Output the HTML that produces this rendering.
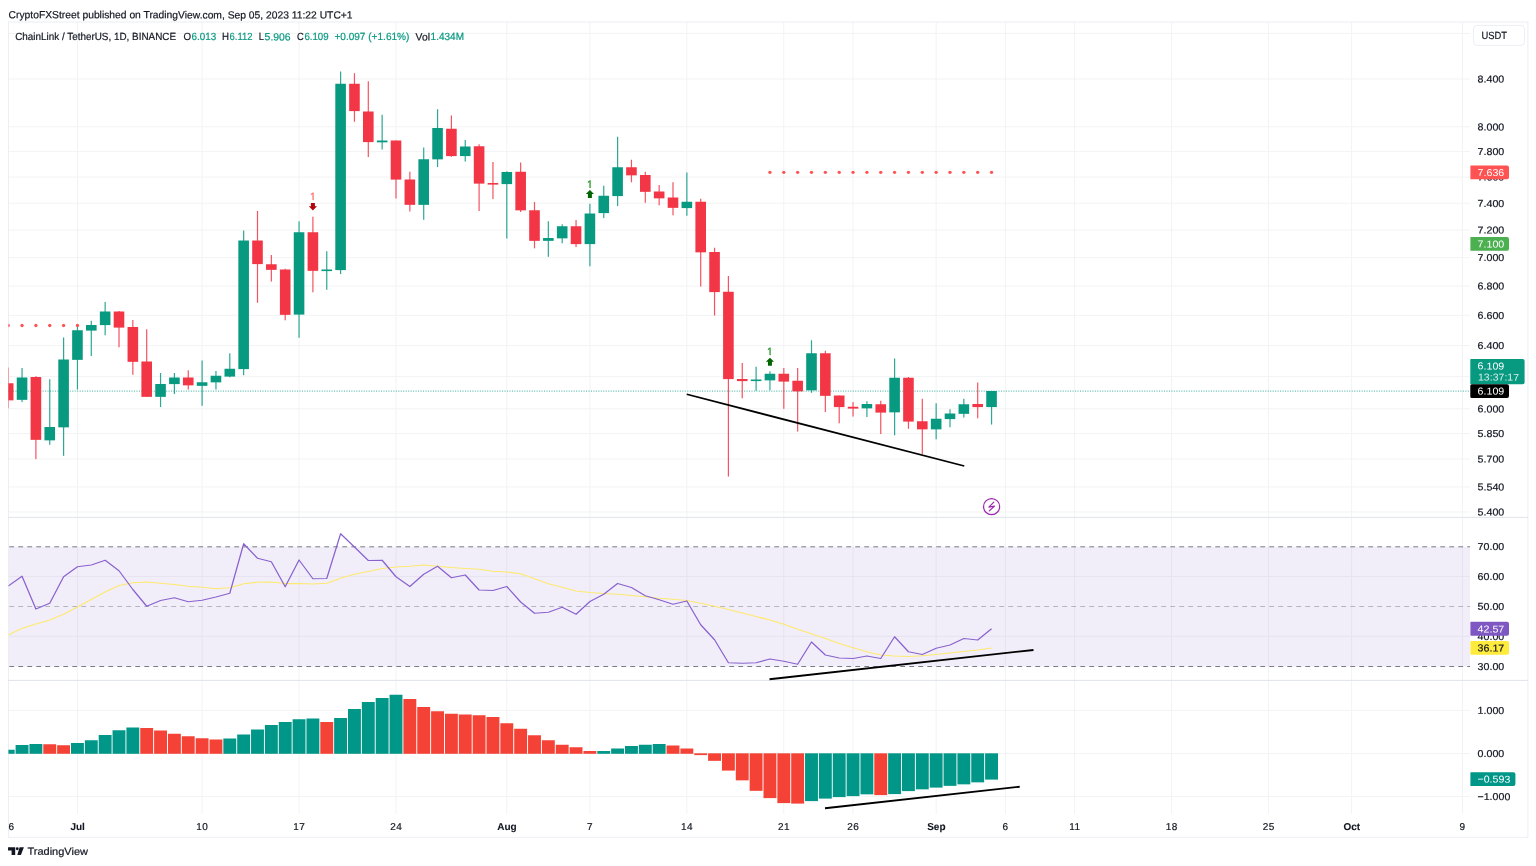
<!DOCTYPE html>
<html lang="en"><head><meta charset="utf-8"><title>ChainLink / TetherUS, 1D, BINANCE</title>
<style>html,body{margin:0;padding:0;background:#fff;}svg{display:block;}text{font-family:"Liberation Sans",sans-serif;font-size:10.4px;fill:#131722;text-rendering:geometricPrecision;}text{stroke:#131722;stroke-width:0.2px;}.b{font-weight:bold;stroke-width:0.1px;}.w{fill:#fff;stroke:none;}.ax{font-size:10px;}.t{fill:#089981;stroke:#089981;}</style></head><body>
<svg width="1536" height="866" viewBox="0 0 1536 866">
<rect width="1536" height="866" fill="#fff"/>
<g stroke="#F2F3F4" stroke-width="1">
<line x1="77.45" y1="22.0" x2="77.45" y2="814"/>
<line x1="202.10" y1="22.0" x2="202.10" y2="814"/>
<line x1="299.05" y1="22.0" x2="299.05" y2="814"/>
<line x1="396.00" y1="22.0" x2="396.00" y2="814"/>
<line x1="506.80" y1="22.0" x2="506.80" y2="814"/>
<line x1="589.90" y1="22.0" x2="589.90" y2="814"/>
<line x1="686.85" y1="22.0" x2="686.85" y2="814"/>
<line x1="783.80" y1="22.0" x2="783.80" y2="814"/>
<line x1="853.05" y1="22.0" x2="853.05" y2="814"/>
<line x1="936.15" y1="22.0" x2="936.15" y2="814"/>
<line x1="1005.40" y1="22.0" x2="1005.40" y2="814"/>
<line x1="1074.65" y1="22.0" x2="1074.65" y2="814"/>
<line x1="1171.60" y1="22.0" x2="1171.60" y2="814"/>
<line x1="1268.55" y1="22.0" x2="1268.55" y2="814"/>
<line x1="1351.65" y1="22.0" x2="1351.65" y2="814"/>
<line x1="1462.45" y1="22.0" x2="1462.45" y2="814"/>
<line x1="8" y1="33.41" x2="1470.0" y2="33.41"/>
<line x1="8" y1="79.00" x2="1470.0" y2="79.00"/>
<line x1="8" y1="126.81" x2="1470.0" y2="126.81"/>
<line x1="8" y1="151.63" x2="1470.0" y2="151.63"/>
<line x1="8" y1="177.08" x2="1470.0" y2="177.08"/>
<line x1="8" y1="203.22" x2="1470.0" y2="203.22"/>
<line x1="8" y1="230.07" x2="1470.0" y2="230.07"/>
<line x1="8" y1="257.68" x2="1470.0" y2="257.68"/>
<line x1="8" y1="286.08" x2="1470.0" y2="286.08"/>
<line x1="8" y1="315.34" x2="1470.0" y2="315.34"/>
<line x1="8" y1="345.50" x2="1470.0" y2="345.50"/>
<line x1="8" y1="376.61" x2="1470.0" y2="376.61"/>
<line x1="8" y1="408.74" x2="1470.0" y2="408.74"/>
<line x1="8" y1="433.55" x2="1470.0" y2="433.55"/>
<line x1="8" y1="459.01" x2="1470.0" y2="459.01"/>
<line x1="8" y1="486.91" x2="1470.0" y2="486.91"/>
<line x1="8" y1="512.00" x2="1470.0" y2="512.00"/>
<line x1="8" y1="576.40" x2="1470.0" y2="576.40"/>
<line x1="8" y1="636.30" x2="1470.0" y2="636.30"/>
<line x1="8" y1="710.30" x2="1470.0" y2="710.30"/>
<line x1="8" y1="753.50" x2="1470.0" y2="753.50"/>
<line x1="8" y1="796.60" x2="1470.0" y2="796.60"/>
</g>
<rect x="8" y="546.8" width="1462.0" height="119.7" fill="#7E57C2" fill-opacity="0.1"/>
<g fill="none" stroke-width="1">
<line x1="8" y1="546.8" x2="1470.0" y2="546.8" stroke="#787B86" stroke-dasharray="4.8 4.2" stroke-dashoffset="-1.3"/>
<line x1="8" y1="666.5" x2="1470.0" y2="666.5" stroke="#787B86" stroke-dasharray="4.8 4.2" stroke-dashoffset="-1.3"/>
<line x1="8" y1="606.5" x2="1470.0" y2="606.5" stroke="#787B86" stroke-opacity="0.5" stroke-dasharray="4.8 4.2" stroke-dashoffset="-1.3"/>
</g>
<rect x="8.5" y="22.0" width="1519.4" height="815.3" fill="none" stroke="#ECEEF4" stroke-width="1"/>
<g fill="none" stroke="#E0E3EB" stroke-width="1">
<line x1="8" y1="517.4" x2="1527.9" y2="517.4"/>
<line x1="8" y1="680.4" x2="1527.9" y2="680.4"/>
</g>
<clipPath id="cp"><rect x="8.4" y="22" width="1461.6" height="815"/></clipPath>
<g clip-path="url(#cp)">
<line x1="8" y1="391.1" x2="1469" y2="391.1" stroke="#089981" stroke-width="1" stroke-dasharray="1.1 1.37" stroke-opacity="0.75"/>
<rect x="7.60" y="367.50" width="1.2" height="40.80" fill="#F23645" fill-opacity="0.85"/>
<rect x="2.90" y="383.25" width="10.60" height="17.10" fill="#F23645"/>
<rect x="21.45" y="368.00" width="1.2" height="34.05" fill="#089981" fill-opacity="0.85"/>
<rect x="16.75" y="377.50" width="10.60" height="22.35" fill="#089981"/>
<rect x="35.30" y="376.25" width="1.2" height="82.80" fill="#F23645" fill-opacity="0.85"/>
<rect x="30.60" y="377.00" width="10.60" height="62.85" fill="#F23645"/>
<rect x="49.15" y="379.25" width="1.2" height="65.55" fill="#089981" fill-opacity="0.85"/>
<rect x="44.45" y="427.00" width="10.60" height="13.35" fill="#089981"/>
<rect x="63.00" y="337.50" width="1.2" height="118.30" fill="#089981" fill-opacity="0.85"/>
<rect x="58.30" y="359.50" width="10.60" height="67.85" fill="#089981"/>
<rect x="76.85" y="325.00" width="1.2" height="64.55" fill="#089981" fill-opacity="0.85"/>
<rect x="72.15" y="330.25" width="10.60" height="29.60" fill="#089981"/>
<rect x="90.70" y="320.75" width="1.2" height="35.30" fill="#089981" fill-opacity="0.85"/>
<rect x="86.00" y="325.00" width="10.60" height="5.60" fill="#089981"/>
<rect x="104.55" y="302.00" width="1.2" height="33.30" fill="#089981" fill-opacity="0.85"/>
<rect x="99.85" y="311.50" width="10.60" height="13.60" fill="#089981"/>
<rect x="118.40" y="311.00" width="1.2" height="36.30" fill="#F23645" fill-opacity="0.85"/>
<rect x="113.70" y="311.50" width="10.60" height="16.10" fill="#F23645"/>
<rect x="132.25" y="320.00" width="1.2" height="54.80" fill="#F23645" fill-opacity="0.85"/>
<rect x="127.55" y="327.00" width="10.60" height="34.85" fill="#F23645"/>
<rect x="146.10" y="329.25" width="1.2" height="67.55" fill="#F23645" fill-opacity="0.85"/>
<rect x="141.40" y="361.50" width="10.60" height="35.35" fill="#F23645"/>
<rect x="159.95" y="373.00" width="1.2" height="34.05" fill="#089981" fill-opacity="0.85"/>
<rect x="155.25" y="384.00" width="10.60" height="12.85" fill="#089981"/>
<rect x="173.80" y="373.00" width="1.2" height="21.05" fill="#089981" fill-opacity="0.85"/>
<rect x="169.10" y="377.50" width="10.60" height="6.60" fill="#089981"/>
<rect x="187.65" y="370.25" width="1.2" height="19.30" fill="#F23645" fill-opacity="0.85"/>
<rect x="182.95" y="377.50" width="10.60" height="7.85" fill="#F23645"/>
<rect x="201.50" y="360.50" width="1.2" height="45.30" fill="#089981" fill-opacity="0.85"/>
<rect x="196.80" y="382.25" width="10.60" height="3.60" fill="#089981"/>
<rect x="215.35" y="371.00" width="1.2" height="18.55" fill="#089981" fill-opacity="0.85"/>
<rect x="210.65" y="375.75" width="10.60" height="6.60" fill="#089981"/>
<rect x="229.20" y="353.25" width="1.2" height="24.05" fill="#089981" fill-opacity="0.85"/>
<rect x="224.50" y="368.75" width="10.60" height="7.85" fill="#089981"/>
<rect x="243.05" y="230.50" width="1.2" height="144.80" fill="#089981" fill-opacity="0.85"/>
<rect x="238.35" y="240.50" width="10.60" height="128.60" fill="#089981"/>
<rect x="256.90" y="211.00" width="1.2" height="91.80" fill="#F23645" fill-opacity="0.85"/>
<rect x="252.20" y="240.50" width="10.60" height="23.60" fill="#F23645"/>
<rect x="270.75" y="255.00" width="1.2" height="26.55" fill="#F23645" fill-opacity="0.85"/>
<rect x="266.05" y="264.25" width="10.60" height="5.60" fill="#F23645"/>
<rect x="284.60" y="268.75" width="1.2" height="51.55" fill="#F23645" fill-opacity="0.85"/>
<rect x="279.90" y="269.50" width="10.60" height="45.35" fill="#F23645"/>
<rect x="298.45" y="221.25" width="1.2" height="116.55" fill="#089981" fill-opacity="0.85"/>
<rect x="293.75" y="232.25" width="10.60" height="82.35" fill="#089981"/>
<rect x="312.30" y="216.75" width="1.2" height="75.55" fill="#F23645" fill-opacity="0.85"/>
<rect x="307.60" y="232.25" width="10.60" height="38.60" fill="#F23645"/>
<rect x="326.15" y="251.25" width="1.2" height="38.55" fill="#089981" fill-opacity="0.85"/>
<rect x="321.45" y="269.50" width="10.60" height="1.60" fill="#089981"/>
<rect x="340.00" y="71.50" width="1.2" height="202.55" fill="#089981" fill-opacity="0.85"/>
<rect x="335.30" y="83.75" width="10.60" height="186.35" fill="#089981"/>
<rect x="353.85" y="73.25" width="1.2" height="48.55" fill="#F23645" fill-opacity="0.85"/>
<rect x="349.15" y="83.75" width="10.60" height="27.35" fill="#F23645"/>
<rect x="367.70" y="81.25" width="1.2" height="75.80" fill="#F23645" fill-opacity="0.85"/>
<rect x="363.00" y="111.50" width="10.60" height="30.60" fill="#F23645"/>
<rect x="381.55" y="114.75" width="1.2" height="34.80" fill="#089981" fill-opacity="0.85"/>
<rect x="376.85" y="140.50" width="10.60" height="1.85" fill="#089981"/>
<rect x="395.40" y="140.50" width="1.2" height="58.05" fill="#F23645" fill-opacity="0.85"/>
<rect x="390.70" y="140.50" width="10.60" height="39.10" fill="#F23645"/>
<rect x="409.25" y="171.75" width="1.2" height="39.80" fill="#F23645" fill-opacity="0.85"/>
<rect x="404.55" y="179.50" width="10.60" height="25.35" fill="#F23645"/>
<rect x="423.10" y="147.50" width="1.2" height="72.30" fill="#089981" fill-opacity="0.85"/>
<rect x="418.40" y="159.25" width="10.60" height="45.60" fill="#089981"/>
<rect x="436.95" y="109.25" width="1.2" height="57.80" fill="#089981" fill-opacity="0.85"/>
<rect x="432.25" y="128.00" width="10.60" height="31.35" fill="#089981"/>
<rect x="450.80" y="115.50" width="1.2" height="41.30" fill="#F23645" fill-opacity="0.85"/>
<rect x="446.10" y="128.75" width="10.60" height="27.35" fill="#F23645"/>
<rect x="464.65" y="140.00" width="1.2" height="21.55" fill="#089981" fill-opacity="0.85"/>
<rect x="459.95" y="146.50" width="10.60" height="9.60" fill="#089981"/>
<rect x="478.50" y="144.25" width="1.2" height="66.80" fill="#F23645" fill-opacity="0.85"/>
<rect x="473.80" y="146.25" width="10.60" height="37.35" fill="#F23645"/>
<rect x="492.35" y="162.00" width="1.2" height="37.05" fill="#F23645" fill-opacity="0.85"/>
<rect x="487.65" y="183.00" width="10.60" height="1.60" fill="#F23645"/>
<rect x="506.20" y="171.25" width="1.2" height="67.30" fill="#089981" fill-opacity="0.85"/>
<rect x="501.50" y="172.00" width="10.60" height="12.10" fill="#089981"/>
<rect x="520.05" y="162.50" width="1.2" height="49.55" fill="#F23645" fill-opacity="0.85"/>
<rect x="515.35" y="171.75" width="10.60" height="38.60" fill="#F23645"/>
<rect x="533.90" y="202.00" width="1.2" height="46.30" fill="#F23645" fill-opacity="0.85"/>
<rect x="529.20" y="210.25" width="10.60" height="30.60" fill="#F23645"/>
<rect x="547.75" y="221.25" width="1.2" height="35.55" fill="#089981" fill-opacity="0.85"/>
<rect x="543.05" y="238.00" width="10.60" height="2.85" fill="#089981"/>
<rect x="561.60" y="224.25" width="1.2" height="19.05" fill="#089981" fill-opacity="0.85"/>
<rect x="556.90" y="226.25" width="10.60" height="12.10" fill="#089981"/>
<rect x="575.45" y="220.00" width="1.2" height="27.05" fill="#F23645" fill-opacity="0.85"/>
<rect x="570.75" y="226.25" width="10.60" height="17.85" fill="#F23645"/>
<rect x="589.30" y="203.75" width="1.2" height="62.55" fill="#089981" fill-opacity="0.85"/>
<rect x="584.60" y="213.50" width="10.60" height="30.60" fill="#089981"/>
<rect x="603.15" y="185.75" width="1.2" height="32.30" fill="#089981" fill-opacity="0.85"/>
<rect x="598.45" y="195.75" width="10.60" height="17.35" fill="#089981"/>
<rect x="617.00" y="136.75" width="1.2" height="69.30" fill="#089981" fill-opacity="0.85"/>
<rect x="612.30" y="167.25" width="10.60" height="28.85" fill="#089981"/>
<rect x="630.85" y="159.75" width="1.2" height="22.55" fill="#F23645" fill-opacity="0.85"/>
<rect x="626.15" y="167.25" width="10.60" height="8.10" fill="#F23645"/>
<rect x="644.70" y="171.75" width="1.2" height="31.05" fill="#F23645" fill-opacity="0.85"/>
<rect x="640.00" y="175.00" width="10.60" height="16.85" fill="#F23645"/>
<rect x="658.55" y="185.00" width="1.2" height="20.30" fill="#F23645" fill-opacity="0.85"/>
<rect x="653.85" y="191.50" width="10.60" height="6.85" fill="#F23645"/>
<rect x="672.40" y="182.25" width="1.2" height="33.05" fill="#F23645" fill-opacity="0.85"/>
<rect x="667.70" y="197.50" width="10.60" height="10.35" fill="#F23645"/>
<rect x="686.25" y="172.50" width="1.2" height="43.30" fill="#089981" fill-opacity="0.85"/>
<rect x="681.55" y="201.75" width="10.60" height="6.35" fill="#089981"/>
<rect x="700.10" y="198.75" width="1.2" height="87.80" fill="#F23645" fill-opacity="0.85"/>
<rect x="695.40" y="201.75" width="10.60" height="50.60" fill="#F23645"/>
<rect x="713.95" y="247.75" width="1.2" height="67.80" fill="#F23645" fill-opacity="0.85"/>
<rect x="709.25" y="252.00" width="10.60" height="40.10" fill="#F23645"/>
<rect x="727.80" y="276.00" width="1.2" height="200.55" fill="#F23645" fill-opacity="0.85"/>
<rect x="723.10" y="291.75" width="10.60" height="87.35" fill="#F23645"/>
<rect x="741.65" y="363.00" width="1.2" height="35.30" fill="#F23645" fill-opacity="0.85"/>
<rect x="736.95" y="379.00" width="10.60" height="2.10" fill="#F23645"/>
<rect x="755.50" y="366.75" width="1.2" height="24.05" fill="#089981" fill-opacity="0.85"/>
<rect x="750.80" y="379.50" width="10.60" height="1.60" fill="#089981"/>
<rect x="769.35" y="371.25" width="1.2" height="19.05" fill="#089981" fill-opacity="0.85"/>
<rect x="764.65" y="373.75" width="10.60" height="6.60" fill="#089981"/>
<rect x="783.20" y="368.00" width="1.2" height="40.80" fill="#F23645" fill-opacity="0.85"/>
<rect x="778.50" y="373.75" width="10.60" height="7.85" fill="#F23645"/>
<rect x="797.05" y="368.00" width="1.2" height="63.55" fill="#F23645" fill-opacity="0.85"/>
<rect x="792.35" y="380.75" width="10.60" height="10.60" fill="#F23645"/>
<rect x="810.90" y="340.25" width="1.2" height="52.55" fill="#089981" fill-opacity="0.85"/>
<rect x="806.20" y="353.25" width="10.60" height="37.10" fill="#089981"/>
<rect x="824.75" y="350.75" width="1.2" height="61.30" fill="#F23645" fill-opacity="0.85"/>
<rect x="820.05" y="353.25" width="10.60" height="42.60" fill="#F23645"/>
<rect x="838.60" y="395.50" width="1.2" height="27.80" fill="#F23645" fill-opacity="0.85"/>
<rect x="833.90" y="395.50" width="10.60" height="11.60" fill="#F23645"/>
<rect x="852.45" y="402.00" width="1.2" height="14.55" fill="#F23645" fill-opacity="0.85"/>
<rect x="847.75" y="406.75" width="10.60" height="1.85" fill="#F23645"/>
<rect x="866.30" y="401.25" width="1.2" height="15.80" fill="#089981" fill-opacity="0.85"/>
<rect x="861.60" y="404.00" width="10.60" height="4.35" fill="#089981"/>
<rect x="880.15" y="400.75" width="1.2" height="33.30" fill="#F23645" fill-opacity="0.85"/>
<rect x="875.45" y="404.25" width="10.60" height="8.35" fill="#F23645"/>
<rect x="894.00" y="358.50" width="1.2" height="76.80" fill="#089981" fill-opacity="0.85"/>
<rect x="889.30" y="377.75" width="10.60" height="34.60" fill="#089981"/>
<rect x="907.85" y="377.00" width="1.2" height="51.80" fill="#F23645" fill-opacity="0.85"/>
<rect x="903.15" y="377.75" width="10.60" height="43.85" fill="#F23645"/>
<rect x="921.70" y="398.75" width="1.2" height="55.30" fill="#F23645" fill-opacity="0.85"/>
<rect x="917.00" y="421.25" width="10.60" height="8.10" fill="#F23645"/>
<rect x="935.55" y="403.25" width="1.2" height="36.05" fill="#089981" fill-opacity="0.85"/>
<rect x="930.85" y="418.75" width="10.60" height="10.60" fill="#089981"/>
<rect x="949.40" y="409.25" width="1.2" height="18.05" fill="#089981" fill-opacity="0.85"/>
<rect x="944.70" y="413.50" width="10.60" height="5.60" fill="#089981"/>
<rect x="963.25" y="398.75" width="1.2" height="18.80" fill="#089981" fill-opacity="0.85"/>
<rect x="958.55" y="404.25" width="10.60" height="9.60" fill="#089981"/>
<rect x="977.10" y="382.50" width="1.2" height="35.80" fill="#F23645" fill-opacity="0.85"/>
<rect x="972.40" y="404.00" width="10.60" height="3.10" fill="#F23645"/>
<rect x="990.95" y="391.00" width="1.2" height="33.55" fill="#089981" fill-opacity="0.85"/>
<rect x="986.25" y="391.00" width="10.60" height="16.10" fill="#089981"/>
<g fill="#FF5252">
<circle cx="8.20" cy="325.5" r="1.65"/>
<circle cx="22.05" cy="325.5" r="1.65"/>
<circle cx="35.90" cy="325.5" r="1.65"/>
<circle cx="49.75" cy="325.5" r="1.65"/>
<circle cx="63.60" cy="325.5" r="1.65"/>
<circle cx="77.45" cy="325.5" r="1.65"/>
<circle cx="769.95" cy="172.3" r="1.65"/>
<circle cx="783.80" cy="172.3" r="1.65"/>
<circle cx="797.65" cy="172.3" r="1.65"/>
<circle cx="811.50" cy="172.3" r="1.65"/>
<circle cx="825.35" cy="172.3" r="1.65"/>
<circle cx="839.20" cy="172.3" r="1.65"/>
<circle cx="853.05" cy="172.3" r="1.65"/>
<circle cx="866.90" cy="172.3" r="1.65"/>
<circle cx="880.75" cy="172.3" r="1.65"/>
<circle cx="894.60" cy="172.3" r="1.65"/>
<circle cx="908.45" cy="172.3" r="1.65"/>
<circle cx="922.30" cy="172.3" r="1.65"/>
<circle cx="936.15" cy="172.3" r="1.65"/>
<circle cx="950.00" cy="172.3" r="1.65"/>
<circle cx="963.85" cy="172.3" r="1.65"/>
<circle cx="977.70" cy="172.3" r="1.65"/>
<circle cx="991.55" cy="172.3" r="1.65"/>
</g>
</g>
<g clip-path="url(#cp)">
<clipPath id="c1"><rect x="-4" y="-9.5" width="8" height="8.2"/><rect x="-0.45" y="-1.4" width="1.3" height="1.8"/></clipPath>
<path d="M310.90 203.00 h4 v3.3 h2.1 l-4.1 4.1 l-4.1 -4.1 h2.1 z" fill="#B2060C"/>
<g transform="translate(312.90 200.00)" clip-path="url(#c1)"><text transform="matrix(1 0.0005 0 1 0 0)" text-anchor="middle" style="font-size:10.4px;stroke:#FF6B6B;stroke-width:0.25px;fill:#FF6B6B">1</text></g>
<path d="M589.90 190.00 l4.1 4 h-2.1 v4 h-4 v-4 h-2.1 z" fill="#006400"/>
<g transform="translate(589.90 187.70)" clip-path="url(#c1)"><text transform="matrix(1 0.0005 0 1 0 0)" text-anchor="middle" style="font-size:10.4px;stroke:#2A962F;stroke-width:0.3px;fill:#2A962F">1</text></g>
<path d="M769.95 357.80 l4.1 4 h-2.1 v4 h-4 v-4 h-2.1 z" fill="#006400"/>
<g transform="translate(769.95 355.00)" clip-path="url(#c1)"><text transform="matrix(1 0.0005 0 1 0 0)" text-anchor="middle" style="font-size:10.4px;stroke:#2A962F;stroke-width:0.3px;fill:#2A962F">1</text></g>
<g stroke="#000" stroke-width="1.8" stroke-linecap="butt">
<line x1="686.75" y1="394.25" x2="964.25" y2="466"/>
<line x1="769.5" y1="679.25" x2="1033.5" y2="650"/>
<line x1="825" y1="808.25" x2="1019.75" y2="786.75"/>
</g>
<g fill="none" stroke="#9C27B0" stroke-width="1.2" stroke-linejoin="round" stroke-linecap="round">
<circle cx="991.6" cy="506.6" r="8.05"/>
<path d="M993.8 502.2 L988.9 507.1 L994.5 506.1 L989.3 510.9"/>
</g>
<polyline points="8.20,635.00 22.05,628.25 35.90,624.00 49.75,620.00 63.60,614.25 77.45,607.00 91.30,599.50 105.15,592.00 119.00,585.50 132.85,582.75 146.70,582.00 160.55,583.25 174.40,584.50 188.25,586.25 202.10,587.25 215.95,588.75 229.80,587.75 243.65,583.75 257.50,582.25 271.35,582.00 285.20,583.50 299.05,583.50 312.90,584.00 326.75,583.25 340.60,578.25 354.45,574.25 368.30,571.50 382.15,568.50 396.00,567.00 409.85,566.25 423.70,565.00 437.55,566.25 451.40,567.50 465.25,568.50 479.10,569.25 492.95,571.25 506.80,572.00 520.65,573.75 534.50,578.75 548.35,583.75 562.20,587.25 576.05,591.00 589.90,592.50 603.75,593.50 617.60,594.25 631.45,595.50 645.30,596.75 659.15,598.25 673.00,599.25 686.85,600.50 700.70,603.25 714.55,606.25 728.40,609.50 742.25,613.00 756.10,616.50 769.95,620.00 783.80,624.25 797.65,629.25 811.50,633.75 825.35,638.50 839.20,643.50 853.05,647.75 866.90,651.75 880.75,655.00 894.60,656.00 908.45,656.50 922.30,655.75 936.15,654.50 950.00,653.00 963.85,651.50 977.70,650.00 991.55,648.00" fill="none" stroke="#FDE96E" stroke-width="1.25" stroke-linejoin="round"/>
<polyline points="8.20,586.00 22.05,576.25 35.90,609.00 49.75,603.25 63.60,576.75 77.45,566.75 91.30,565.00 105.15,560.25 119.00,570.75 132.85,589.50 146.70,606.25 160.55,600.50 174.40,597.75 188.25,601.75 202.10,600.25 215.95,597.00 229.80,593.25 243.65,543.75 257.50,558.25 271.35,561.75 285.20,586.75 299.05,560.00 312.90,578.75 326.75,578.50 340.60,533.75 354.45,547.00 368.30,560.50 382.15,560.25 396.00,576.75 409.85,586.50 423.70,574.25 437.55,566.25 451.40,577.75 465.25,575.00 479.10,590.00 492.95,590.50 506.80,586.50 520.65,602.00 534.50,613.25 548.35,612.25 562.20,607.25 576.05,614.25 589.90,601.50 603.75,594.25 617.60,583.50 631.45,587.50 645.30,595.75 659.15,599.75 673.00,604.25 686.85,601.00 700.70,624.75 714.55,639.75 728.40,662.75 742.25,663.25 756.10,662.75 769.95,659.00 783.80,661.25 797.65,664.25 811.50,642.00 825.35,655.00 839.20,658.00 853.05,658.50 866.90,656.00 880.75,658.50 894.60,636.75 908.45,651.75 922.30,654.50 936.15,648.25 950.00,645.00 963.85,638.50 977.70,640.00 991.55,628.75" fill="none" stroke="#8862CE" stroke-width="1.25" stroke-linejoin="round"/>
<rect x="1.75" y="749.75" width="12.9" height="4.05" fill="#009688"/>
<rect x="15.60" y="745.00" width="12.9" height="8.80" fill="#009688"/>
<rect x="29.45" y="744.00" width="12.9" height="9.80" fill="#009688"/>
<rect x="43.30" y="744.25" width="12.9" height="9.55" fill="#F44336"/>
<rect x="57.15" y="745.25" width="12.9" height="8.55" fill="#F44336"/>
<rect x="71.00" y="743.00" width="12.9" height="10.80" fill="#009688"/>
<rect x="84.85" y="740.25" width="12.9" height="13.55" fill="#009688"/>
<rect x="98.70" y="735.00" width="12.9" height="18.80" fill="#009688"/>
<rect x="112.55" y="730.25" width="12.9" height="23.55" fill="#009688"/>
<rect x="126.40" y="727.50" width="12.9" height="26.30" fill="#009688"/>
<rect x="140.25" y="728.00" width="12.9" height="25.80" fill="#F44336"/>
<rect x="154.10" y="730.50" width="12.9" height="23.30" fill="#F44336"/>
<rect x="167.95" y="733.75" width="12.9" height="20.05" fill="#F44336"/>
<rect x="181.80" y="736.25" width="12.9" height="17.55" fill="#F44336"/>
<rect x="195.65" y="738.25" width="12.9" height="15.55" fill="#F44336"/>
<rect x="209.50" y="739.50" width="12.9" height="14.30" fill="#F44336"/>
<rect x="223.35" y="738.50" width="12.9" height="15.30" fill="#009688"/>
<rect x="237.20" y="734.50" width="12.9" height="19.30" fill="#009688"/>
<rect x="251.05" y="729.50" width="12.9" height="24.30" fill="#009688"/>
<rect x="264.90" y="725.00" width="12.9" height="28.80" fill="#009688"/>
<rect x="278.75" y="722.00" width="12.9" height="31.80" fill="#009688"/>
<rect x="292.60" y="719.25" width="12.9" height="34.55" fill="#009688"/>
<rect x="306.45" y="718.50" width="12.9" height="35.30" fill="#009688"/>
<rect x="320.30" y="722.00" width="12.9" height="31.80" fill="#F44336"/>
<rect x="334.15" y="718.00" width="12.9" height="35.80" fill="#009688"/>
<rect x="348.00" y="709.00" width="12.9" height="44.80" fill="#009688"/>
<rect x="361.85" y="702.00" width="12.9" height="51.80" fill="#009688"/>
<rect x="375.70" y="698.00" width="12.9" height="55.80" fill="#009688"/>
<rect x="389.55" y="694.75" width="12.9" height="59.05" fill="#009688"/>
<rect x="403.40" y="699.00" width="12.9" height="54.80" fill="#F44336"/>
<rect x="417.25" y="707.00" width="12.9" height="46.80" fill="#F44336"/>
<rect x="431.10" y="711.25" width="12.9" height="42.55" fill="#F44336"/>
<rect x="444.95" y="713.75" width="12.9" height="40.05" fill="#F44336"/>
<rect x="458.80" y="714.50" width="12.9" height="39.30" fill="#F44336"/>
<rect x="472.65" y="715.25" width="12.9" height="38.55" fill="#F44336"/>
<rect x="486.50" y="717.00" width="12.9" height="36.80" fill="#F44336"/>
<rect x="500.35" y="723.25" width="12.9" height="30.55" fill="#F44336"/>
<rect x="514.20" y="728.75" width="12.9" height="25.05" fill="#F44336"/>
<rect x="528.05" y="735.25" width="12.9" height="18.55" fill="#F44336"/>
<rect x="541.90" y="740.25" width="12.9" height="13.55" fill="#F44336"/>
<rect x="555.75" y="744.75" width="12.9" height="9.05" fill="#F44336"/>
<rect x="569.60" y="747.25" width="12.9" height="6.55" fill="#F44336"/>
<rect x="583.45" y="751.00" width="12.9" height="2.80" fill="#F44336"/>
<rect x="597.30" y="751.00" width="12.9" height="2.80" fill="#009688"/>
<rect x="611.15" y="748.50" width="12.9" height="5.30" fill="#009688"/>
<rect x="625.00" y="746.00" width="12.9" height="7.80" fill="#009688"/>
<rect x="638.85" y="744.75" width="12.9" height="9.05" fill="#009688"/>
<rect x="652.70" y="744.00" width="12.9" height="9.80" fill="#009688"/>
<rect x="666.55" y="745.50" width="12.9" height="8.30" fill="#F44336"/>
<rect x="680.40" y="748.50" width="12.9" height="5.30" fill="#F44336"/>
<rect x="694.25" y="753.30" width="12.9" height="1.80" fill="#F44336"/>
<rect x="708.10" y="753.30" width="12.9" height="7.55" fill="#F44336"/>
<rect x="721.95" y="753.30" width="12.9" height="17.30" fill="#F44336"/>
<rect x="735.80" y="753.30" width="12.9" height="27.05" fill="#F44336"/>
<rect x="749.65" y="753.30" width="12.9" height="37.55" fill="#F44336"/>
<rect x="763.50" y="753.30" width="12.9" height="44.80" fill="#F44336"/>
<rect x="777.35" y="753.30" width="12.9" height="49.80" fill="#F44336"/>
<rect x="791.20" y="753.30" width="12.9" height="50.30" fill="#F44336"/>
<rect x="805.05" y="753.30" width="12.9" height="47.80" fill="#009688"/>
<rect x="818.90" y="753.30" width="12.9" height="45.30" fill="#009688"/>
<rect x="832.75" y="753.30" width="12.9" height="43.80" fill="#009688"/>
<rect x="846.60" y="753.30" width="12.9" height="42.80" fill="#009688"/>
<rect x="860.45" y="753.30" width="12.9" height="41.05" fill="#009688"/>
<rect x="874.30" y="753.30" width="12.9" height="41.80" fill="#F44336"/>
<rect x="888.15" y="753.30" width="12.9" height="40.80" fill="#009688"/>
<rect x="902.00" y="753.30" width="12.9" height="37.80" fill="#009688"/>
<rect x="915.85" y="753.30" width="12.9" height="36.05" fill="#009688"/>
<rect x="929.70" y="753.30" width="12.9" height="34.30" fill="#009688"/>
<rect x="943.55" y="753.30" width="12.9" height="32.55" fill="#009688"/>
<rect x="957.40" y="753.30" width="12.9" height="31.05" fill="#009688"/>
<rect x="971.25" y="753.30" width="12.9" height="29.05" fill="#009688"/>
<rect x="985.10" y="753.30" width="12.9" height="26.30" fill="#009688"/>
</g>
<text transform="matrix(1 0.0005 0 1 1490.90 82.62)" textLength="26.8" lengthAdjust="spacingAndGlyphs" class="ax" text-anchor="middle">8.400</text>
<text transform="matrix(1 0.0005 0 1 1490.90 130.38)" textLength="26.8" lengthAdjust="spacingAndGlyphs" class="ax" text-anchor="middle">8.000</text>
<text transform="matrix(1 0.0005 0 1 1490.90 155.12)" textLength="26.8" lengthAdjust="spacingAndGlyphs" class="ax" text-anchor="middle">7.800</text>
<text transform="matrix(1 0.0005 0 1 1490.90 180.62)" textLength="26.8" lengthAdjust="spacingAndGlyphs" class="ax" text-anchor="middle">7.600</text>
<text transform="matrix(1 0.0005 0 1 1490.90 206.88)" textLength="26.8" lengthAdjust="spacingAndGlyphs" class="ax" text-anchor="middle">7.400</text>
<text transform="matrix(1 0.0005 0 1 1490.90 233.62)" textLength="26.8" lengthAdjust="spacingAndGlyphs" class="ax" text-anchor="middle">7.200</text>
<text transform="matrix(1 0.0005 0 1 1490.90 261.12)" textLength="26.8" lengthAdjust="spacingAndGlyphs" class="ax" text-anchor="middle">7.000</text>
<text transform="matrix(1 0.0005 0 1 1490.90 289.62)" textLength="26.8" lengthAdjust="spacingAndGlyphs" class="ax" text-anchor="middle">6.800</text>
<text transform="matrix(1 0.0005 0 1 1490.90 318.88)" textLength="26.8" lengthAdjust="spacingAndGlyphs" class="ax" text-anchor="middle">6.600</text>
<text transform="matrix(1 0.0005 0 1 1490.90 349.12)" textLength="26.8" lengthAdjust="spacingAndGlyphs" class="ax" text-anchor="middle">6.400</text>
<text transform="matrix(1 0.0005 0 1 1490.90 412.38)" textLength="26.8" lengthAdjust="spacingAndGlyphs" class="ax" text-anchor="middle">6.000</text>
<text transform="matrix(1 0.0005 0 1 1490.90 437.12)" textLength="26.8" lengthAdjust="spacingAndGlyphs" class="ax" text-anchor="middle">5.850</text>
<text transform="matrix(1 0.0005 0 1 1490.90 462.62)" textLength="26.8" lengthAdjust="spacingAndGlyphs" class="ax" text-anchor="middle">5.700</text>
<text transform="matrix(1 0.0005 0 1 1490.90 490.38)" textLength="26.8" lengthAdjust="spacingAndGlyphs" class="ax" text-anchor="middle">5.540</text>
<text transform="matrix(1 0.0005 0 1 1490.90 515.62)" textLength="26.8" lengthAdjust="spacingAndGlyphs" class="ax" text-anchor="middle">5.400</text>
<text transform="matrix(1 0.0005 0 1 1490.90 550.12)" textLength="26.8" lengthAdjust="spacingAndGlyphs" class="ax" text-anchor="middle">70.00</text>
<text transform="matrix(1 0.0005 0 1 1490.90 580.12)" textLength="26.8" lengthAdjust="spacingAndGlyphs" class="ax" text-anchor="middle">60.00</text>
<text transform="matrix(1 0.0005 0 1 1490.90 609.88)" textLength="26.8" lengthAdjust="spacingAndGlyphs" class="ax" text-anchor="middle">50.00</text>
<text transform="matrix(1 0.0005 0 1 1490.90 639.88)" textLength="26.8" lengthAdjust="spacingAndGlyphs" class="ax" text-anchor="middle">40.00</text>
<text transform="matrix(1 0.0005 0 1 1490.90 670.12)" textLength="26.8" lengthAdjust="spacingAndGlyphs" class="ax" text-anchor="middle">30.00</text>
<text transform="matrix(1 0.0005 0 1 1490.90 713.88)" textLength="26.8" lengthAdjust="spacingAndGlyphs" class="ax" text-anchor="middle">1.000</text>
<text transform="matrix(1 0.0005 0 1 1490.90 757.12)" textLength="26.8" lengthAdjust="spacingAndGlyphs" class="ax" text-anchor="middle">0.000</text>
<text transform="matrix(1 0.0005 0 1 1493.90 800.12)" textLength="32.8" lengthAdjust="spacingAndGlyphs" class="ax" text-anchor="middle">−1.000</text>
<path d="M1471.00 165.50 H1507.00 Q1509.00 165.50 1509.00 167.50 V177.30 Q1509.00 179.30 1507.00 179.30 H1471.00 Q1470.40 179.30 1470.40 178.70 V166.10 Q1470.40 165.50 1471.00 165.50 Z" fill="#FF5252"/>
<text transform="matrix(1 0.0005 0 1 1490.90 175.88)" textLength="26.8" lengthAdjust="spacingAndGlyphs" class="ax w" text-anchor="middle">7.636</text>
<path d="M1471.00 237.00 H1507.00 Q1509.00 237.00 1509.00 239.00 V248.80 Q1509.00 250.80 1507.00 250.80 H1471.00 Q1470.40 250.80 1470.40 250.20 V237.60 Q1470.40 237.00 1471.00 237.00 Z" fill="#4CAF50"/>
<text transform="matrix(1 0.0005 0 1 1490.90 247.38)" textLength="26.8" lengthAdjust="spacingAndGlyphs" class="ax w" text-anchor="middle">7.100</text>
<path d="M1470.90 358.90 H1522.60 Q1524.60 358.90 1524.60 360.90 V382.20 Q1524.60 384.20 1522.60 384.20 H1470.90 Q1470.30 384.20 1470.30 383.60 V359.50 Q1470.30 358.90 1470.90 358.90 Z" fill="#089981"/>
<text transform="matrix(1 0.0005 0 1 1490.90 369.38)" textLength="26.8" lengthAdjust="spacingAndGlyphs" class="ax w" text-anchor="middle">6.109</text>
<text transform="matrix(1 0.0005 0 1 1498.55 380.62)" textLength="41.1" lengthAdjust="spacingAndGlyphs" class="ax w" text-anchor="middle" style="stroke:none;fill-opacity:0.85">13:37:17</text>
<path d="M1471.80 384.20 H1507.00 Q1509.00 384.20 1509.00 386.20 V396.10 Q1509.00 398.10 1507.00 398.10 H1471.80 Q1470.30 398.10 1470.30 396.60 V385.70 Q1470.30 384.20 1471.80 384.20 Z" fill="#000"/>
<text transform="matrix(1 0.0005 0 1 1490.90 394.62)" textLength="26.8" lengthAdjust="spacingAndGlyphs" class="ax w" text-anchor="middle">6.109</text>
<path d="M1471.00 621.80 H1507.00 Q1509.00 621.80 1509.00 623.80 V633.70 Q1509.00 635.70 1507.00 635.70 H1471.00 Q1470.40 635.70 1470.40 635.10 V622.40 Q1470.40 621.80 1471.00 621.80 Z" fill="#7E57C2"/>
<text transform="matrix(1 0.0005 0 1 1490.90 632.38)" textLength="26.8" lengthAdjust="spacingAndGlyphs" class="ax w" text-anchor="middle">42.57</text>
<path d="M1471.00 641.00 H1507.00 Q1509.00 641.00 1509.00 643.00 V652.80 Q1509.00 654.80 1507.00 654.80 H1471.00 Q1470.40 654.80 1470.40 654.20 V641.60 Q1470.40 641.00 1471.00 641.00 Z" fill="#FFEB3B"/>
<text transform="matrix(1 0.0005 0 1 1490.90 651.38)" textLength="26.8" lengthAdjust="spacingAndGlyphs" class="ax" text-anchor="middle">36.17</text>
<path d="M1471.00 772.20 H1513.40 Q1515.40 772.20 1515.40 774.20 V784.00 Q1515.40 786.00 1513.40 786.00 H1471.00 Q1470.40 786.00 1470.40 785.40 V772.80 Q1470.40 772.20 1471.00 772.20 Z" fill="#009688"/>
<text transform="matrix(1 0.0005 0 1 1493.90 782.62)" textLength="32.8" lengthAdjust="spacingAndGlyphs" class="ax w" text-anchor="middle">−0.593</text>
<rect x="1473.6" y="25.4" width="50.9" height="20.0" rx="3.5" fill="#fff" stroke="#ECEEF4" stroke-width="1"/>
<text transform="matrix(1 0.0005 0 1 1494.30 39.38)" textLength="25.6" lengthAdjust="spacingAndGlyphs" text-anchor="middle">USDT</text>
<text transform="matrix(1 0.0005 0 1 8.55 829.88)" class="ax">6</text>
<text transform="matrix(1 0.0005 0 1 77.65 829.88)" class="ax b" text-anchor="middle">Jul</text>
<text transform="matrix(1 0.0005 0 1 202.30 829.88)" class="ax" text-anchor="middle" style="letter-spacing:0.5px">10</text>
<text transform="matrix(1 0.0005 0 1 299.25 829.88)" class="ax" text-anchor="middle" style="letter-spacing:0.5px">17</text>
<text transform="matrix(1 0.0005 0 1 396.20 829.88)" class="ax" text-anchor="middle" style="letter-spacing:0.5px">24</text>
<text transform="matrix(1 0.0005 0 1 507.00 829.88)" class="ax b" text-anchor="middle">Aug</text>
<text transform="matrix(1 0.0005 0 1 590.10 829.88)" class="ax" text-anchor="middle" style="letter-spacing:0.5px">7</text>
<text transform="matrix(1 0.0005 0 1 687.05 829.88)" class="ax" text-anchor="middle" style="letter-spacing:0.5px">14</text>
<text transform="matrix(1 0.0005 0 1 784.00 829.88)" class="ax" text-anchor="middle" style="letter-spacing:0.5px">21</text>
<text transform="matrix(1 0.0005 0 1 853.25 829.88)" class="ax" text-anchor="middle" style="letter-spacing:0.5px">26</text>
<text transform="matrix(1 0.0005 0 1 936.35 829.88)" class="ax b" text-anchor="middle">Sep</text>
<text transform="matrix(1 0.0005 0 1 1005.60 829.88)" class="ax" text-anchor="middle" style="letter-spacing:0.5px">6</text>
<text transform="matrix(1 0.0005 0 1 1074.85 829.88)" class="ax" text-anchor="middle" style="letter-spacing:0.5px">11</text>
<text transform="matrix(1 0.0005 0 1 1171.80 829.88)" class="ax" text-anchor="middle" style="letter-spacing:0.5px">18</text>
<text transform="matrix(1 0.0005 0 1 1268.75 829.88)" class="ax" text-anchor="middle" style="letter-spacing:0.5px">25</text>
<text transform="matrix(1 0.0005 0 1 1351.85 829.88)" class="ax b" text-anchor="middle">Oct</text>
<text transform="matrix(1 0.0005 0 1 1462.65 829.88)" class="ax" text-anchor="middle" style="letter-spacing:0.5px">9</text>
<text transform="matrix(1 0.0005 0 1 180.60 18.38)" textLength="344.0" lengthAdjust="spacingAndGlyphs" text-anchor="middle">CryptoFXStreet published on TradingView.com, Sep 05, 2023 11:22 UTC+1</text>
<text transform="matrix(1 0.0005 0 1 95.60 40.38)" textLength="160.8" lengthAdjust="spacingAndGlyphs" text-anchor="middle">ChainLink / TetherUS, 1D, BINANCE</text>
<text transform="matrix(1 0.0005 0 1 187.20 40.38)" textLength="7.6" lengthAdjust="spacingAndGlyphs" text-anchor="middle">O</text><text transform="matrix(1 0.0005 0 1 203.90 40.38)" textLength="24.6" lengthAdjust="spacingAndGlyphs" class="t" text-anchor="middle">6.013</text>
<text transform="matrix(1 0.0005 0 1 225.50 40.38)" textLength="7.0" lengthAdjust="spacingAndGlyphs" text-anchor="middle">H</text><text transform="matrix(1 0.0005 0 1 241.10 40.38)" textLength="23.0" lengthAdjust="spacingAndGlyphs" class="t" text-anchor="middle">6.112</text>
<text transform="matrix(1 0.0005 0 1 261.40 40.38)" textLength="5.2" lengthAdjust="spacingAndGlyphs" text-anchor="middle">L</text><text transform="matrix(1 0.0005 0 1 277.60 40.38)" textLength="26.0" lengthAdjust="spacingAndGlyphs" class="t" text-anchor="middle">5.906</text>
<text transform="matrix(1 0.0005 0 1 300.40 40.38)" textLength="6.8" lengthAdjust="spacingAndGlyphs" text-anchor="middle">C</text><text transform="matrix(1 0.0005 0 1 316.50 40.38)" textLength="24.2" lengthAdjust="spacingAndGlyphs" class="t" text-anchor="middle">6.109</text>
<text transform="matrix(1 0.0005 0 1 371.90 40.38)" textLength="75.0" lengthAdjust="spacingAndGlyphs" class="t" text-anchor="middle">+0.097 (+1.61%)</text>
<text transform="matrix(1 0.0005 0 1 422.80 40.38)" textLength="14.4" lengthAdjust="spacingAndGlyphs" text-anchor="middle">Vol</text><text transform="matrix(1 0.0005 0 1 447.30 40.38)" textLength="33.4" lengthAdjust="spacingAndGlyphs" class="t" text-anchor="middle">1.434M</text>
<g fill="#131722">
<path d="M8.05 847.3 H15.2 V854.9 H11.6 V850.5 H8.05 Z"/>
<circle cx="17.25" cy="848.75" r="1.45"/>
<path d="M19.6 847.3 H23.9 L20.9 854.9 H17.3 Z"/>
</g>
<text transform="matrix(1 0.0005 0 1 57.70 854.88)" textLength="60.6" lengthAdjust="spacingAndGlyphs" text-anchor="middle">TradingView</text>
</svg></body></html>
